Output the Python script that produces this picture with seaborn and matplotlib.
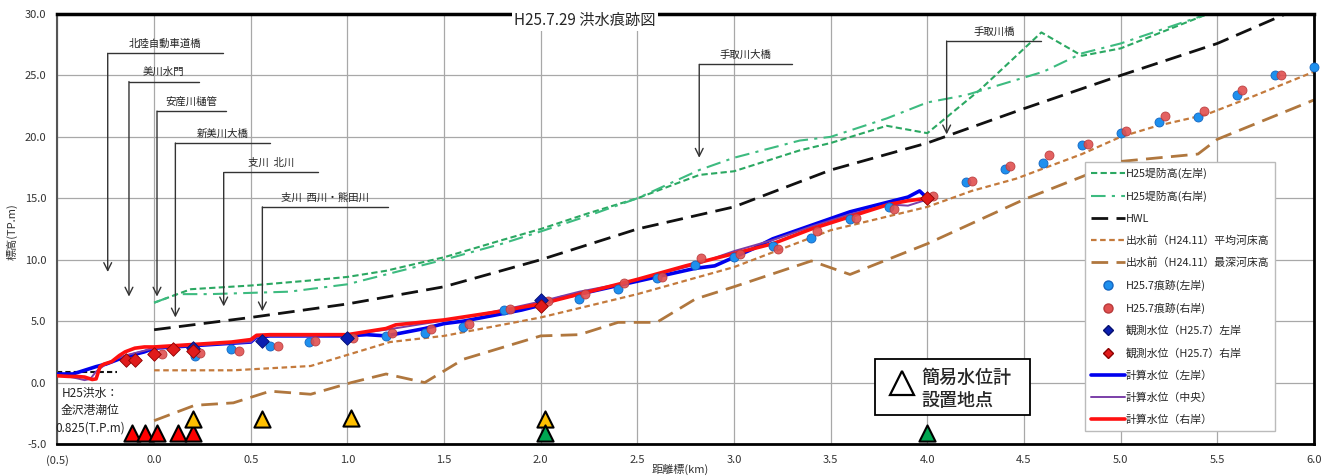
import matplotlib
matplotlib.use("Agg")

import matplotlib.pyplot as plt
from matplotlib.lines import Line2D
from matplotlib.patches import Rectangle
import seaborn as sns

# ---- data (distance km, elevation T.P.m) ----
levee_left_x = [0.0, 0.19, 0.5, 0.8, 1.0, 1.2, 1.5, 1.8, 2.0, 2.25, 2.5, 2.82, 3.0, 3.34, 3.5,
                3.79, 4.0, 4.27, 4.59, 4.8, 5.0, 5.45, 5.7]
levee_left_y = [6.5, 7.6, 7.9, 8.3, 8.6, 9.1, 10.2, 11.6, 12.5, 13.8, 15.0, 16.9, 17.2, 18.9, 19.5,
                20.9, 20.3, 23.8, 28.5, 26.6, 27.2, 30.0, 31.5]
levee_right_x = [0.0, 0.12, 0.29, 0.7, 1.0, 1.2, 1.5, 1.8, 2.0, 2.25, 2.5, 2.82, 3.0, 3.34, 3.5,
                 3.79, 4.0, 4.2, 4.6, 4.8, 5.0, 5.45, 5.7]
levee_right_y = [6.5, 7.2, 7.2, 7.4, 8.0, 8.8, 10.0, 11.3, 12.3, 13.6, 15.0, 17.3, 18.3, 19.7, 20.0,
                 21.5, 22.8, 23.4, 25.3, 26.8, 27.6, 30.0, 31.0]

hwl_x = [0.0, 0.5, 1.0, 1.5, 2.0, 2.5, 3.0, 3.5, 4.0, 4.5, 5.0, 5.5, 6.0]
hwl_y = [4.3, 5.3, 6.4, 7.8, 10.0, 12.5, 14.3, 17.3, 19.5, 22.3, 25.0, 27.6, 31.0]

bed_mean_x = [0.0, 0.41, 0.81, 1.01, 1.22, 1.5, 2.0, 2.5, 3.0, 3.5, 4.0, 4.23, 4.46, 4.63, 4.8,
              5.0, 5.19, 5.44, 5.67, 6.0]
bed_mean_y = [1.0, 1.0, 1.35, 2.3, 3.3, 3.8, 5.3, 7.2, 9.4, 12.4, 14.3, 15.6, 16.6, 17.6, 18.6,
              20.0, 20.9, 21.8, 23.2, 25.3]

bed_deep_x = [0.0, 0.21, 0.41, 0.6, 0.81, 1.02, 1.2, 1.4, 1.6, 2.0, 2.2, 2.4, 2.6, 2.8, 3.0,
              3.4, 3.6, 4.0, 4.5, 5.0, 5.4, 5.5, 6.0]
bed_deep_y = [-3.1, -1.85, -1.65, -0.7, -0.95, 0.0, 0.7, 0.0, 1.9, 3.8, 3.9, 4.9, 4.9, 6.8, 7.8,
              9.9, 8.8, 11.3, 14.9, 18.0, 18.6, 19.8, 23.0]

mark_left_x = [0.21, 0.40, 0.60, 0.80, 1.00, 1.20, 1.40, 1.60, 1.81, 2.00, 2.20, 2.40, 2.60, 2.80,
               3.00, 3.20, 3.40, 3.60, 3.80, 4.00, 4.20, 4.40, 4.60, 4.80, 5.00, 5.20, 5.40, 5.60,
               5.80, 6.00]
mark_left_y = [2.2, 2.7, 3.0, 3.3, 3.6, 3.8, 4.0, 4.5, 5.9, 6.6, 6.8, 7.6, 8.5, 9.6,
               10.2, 11.1, 11.8, 13.3, 14.3, 15.0, 16.3, 17.4, 17.9, 19.3, 20.3, 21.2, 21.6, 23.4,
               25.05, 25.7]
mark_right_x = [0.04, 0.24, 0.44, 0.64, 0.83, 1.03, 1.23, 1.43, 1.63, 1.84, 2.04, 2.23, 2.43, 2.63,
                2.83, 3.03, 3.23, 3.43, 3.63, 3.83, 4.03, 4.23, 4.43, 4.63, 4.83, 5.03, 5.23, 5.43,
                5.63, 5.83]
mark_right_y = [2.3, 2.4, 2.6, 2.95, 3.4, 3.6, 4.0, 4.4, 4.8, 6.0, 6.6, 7.2, 8.1, 8.6,
                10.1, 10.5, 10.9, 12.3, 13.4, 14.1, 15.2, 16.4, 17.6, 18.5, 19.4, 20.5, 21.7, 22.1,
                23.8, 25.0]

obs_left_x = [0.2, 0.56, 1.0, 2.0]
obs_left_y = [2.8, 3.4, 3.6, 6.7]
obs_right_x = [-0.145, -0.1, 0.0, 0.1, 0.2, 2.0, 4.0]
obs_right_y = [1.8, 1.85, 2.3, 2.7, 2.6, 6.2, 15.0]

calc_left_x = [-0.5, -0.42, -0.38, -0.34, -0.3, -0.25, -0.2, -0.15, -0.1, -0.05, 0.0, 0.1, 0.2,
               0.3, 0.4, 0.5, 0.53, 0.6, 0.8, 1.0, 1.1, 1.2, 1.3, 1.4, 1.5, 1.6, 1.7, 1.8, 1.9,
               2.0, 2.1, 2.2, 2.4, 2.6, 2.8, 2.9, 3.0, 3.1, 3.2, 3.4, 3.6, 3.8, 3.9, 3.96, 4.0]
calc_left_y = [0.7, 0.7, 0.9, 1.1, 1.3, 1.5, 1.8, 2.1, 2.3, 2.5, 2.8, 2.9, 3.0,
               3.1, 3.2, 3.3, 3.7, 3.8, 3.8, 3.8, 3.9, 3.8, 4.1, 4.4, 4.8, 5.0, 5.3, 5.6, 5.9,
               6.3, 6.9, 7.2, 7.9, 8.6, 9.3, 9.5, 10.2, 10.9, 11.7, 12.8, 13.9, 14.7, 15.1, 15.6, 15.0]
calc_mid_x = [-0.5, -0.45, -0.4, -0.36, -0.33, -0.3, -0.25, -0.2, -0.15, -0.1, -0.05, 0.0, 0.1,
              0.2, 0.3, 0.4, 0.5, 0.53, 0.6, 0.8, 1.0, 1.2, 1.4, 1.6, 1.8, 2.0, 2.2, 2.4, 2.6,
              2.8, 3.0, 3.2, 3.4, 3.6, 3.8, 3.9, 4.0]
calc_mid_y = [0.6, 0.5, 0.35, 0.2, 0.3, 0.9, 1.5, 1.9, 2.2, 2.4, 2.6, 2.8, 2.9,
              3.0, 3.1, 3.2, 3.3, 3.7, 3.8, 3.8, 3.9, 4.3, 4.8, 5.3, 5.9, 6.6, 7.4, 8.0, 8.8,
              9.6, 10.7, 11.6, 12.7, 13.7, 14.5, 14.4, 14.9]
calc_right_x = [-0.5, -0.44, -0.4, -0.36, -0.32, -0.3, -0.28, -0.26, -0.22, -0.18, -0.15, -0.1,
                -0.05, 0.0, 0.1, 0.2, 0.3, 0.4, 0.5, 0.53, 0.6, 0.8, 1.0, 1.2, 1.25, 1.5, 1.75,
                2.0, 2.25, 2.5, 2.75, 3.0, 3.2, 3.4, 3.6, 3.8, 3.9, 4.0]
calc_right_y = [0.55, 0.5, 0.5, 0.45, 0.25, 0.3, 1.3, 1.5, 1.7, 2.2, 2.5, 2.8,
                2.9, 2.9, 3.0, 3.1, 3.2, 3.3, 3.5, 3.85, 3.9, 3.9, 3.9, 4.4, 4.7, 5.1, 5.7,
                6.4, 7.4, 8.4, 9.5, 10.5, 11.3, 12.5, 13.5, 14.5, 14.8, 15.0]

tide_x = [-0.5, -0.19]
tide_y = [0.825, 0.825]

gauge_red_x = [-0.114, -0.047, 0.015, 0.124, 0.2]
gauge_red_y = [-4.1, -4.1, -4.1, -4.1, -4.1]
gauge_orange_x = [0.2, 0.56, 1.02, 2.02]
gauge_orange_y = [-3.0, -3.0, -2.9, -3.0]
gauge_green_x = [2.02, 4.0]
gauge_green_y = [-4.1, -4.1]

# bridge / structure call-outs: label, vertical x, line end x, top y, arrow tip y
bridge_names = ["北陸自動車道橋", "美川水門", "安産川樋管", "新美川大橋", "支川  北川",
                "支川  西川・熊田川", "手取川大橋", "手取川橋"]
bridge_x = [-0.24, -0.13, 0.015, 0.11, 0.36, 0.56, 2.82, 4.1]
bridge_end = [0.357, 0.23, 0.37, 0.6, 0.85, 1.21, 3.3, 4.59]
bridge_top = [26.8, 24.5, 22.1, 19.5, 17.1, 14.3, 25.9, 27.8]
bridge_tip = [9.0, 7.0, 7.0, 5.3, 6.2, 5.8, 18.3, 20.2]

x_ticks = [-0.5, 0.0, 0.5, 1.0, 1.5, 2.0, 2.5, 3.0, 3.5, 4.0, 4.5, 5.0, 5.5, 6.0]
x_tick_labels = ["(0.5)", "0.0", "0.5", "1.0", "1.5", "2.0", "2.5", "3.0", "3.5", "4.0",
                 "4.5", "5.0", "5.5", "6.0"]
y_ticks = [-5, 0, 5, 10, 15, 20, 25, 30]

# ---- styling ----
sns.set_style("white")
plt.rcParams["font.family"] = ["Noto Sans CJK JP", "DejaVu Sans"]

C_LEV_L = "#2BA862"
C_LEV_R = "#3DBB80"
C_BED_M = "#C47A3C"
C_BED_D = "#B0773E"

fig = plt.figure(figsize=(13.33, 4.76), dpi=100)
ax = fig.add_axes([0.0431, 0.0672, 0.9426, 0.9034])


def line(x, y, **kw):
    sns.lineplot(x=x, y=y, ax=ax, estimator=None, sort=False, legend=False, **kw)


line(levee_left_x, levee_left_y, color=C_LEV_L, linewidth=1.5, linestyle=(0, (3, 1.6)), zorder=2)
line(levee_right_x, levee_right_y, color=C_LEV_R, linewidth=1.5,
     linestyle=(0, (7, 3, 1.5, 3)), zorder=2)
line(hwl_x, hwl_y, color="#111111", linewidth=2.0, linestyle=(0, (6, 3)), zorder=2)
line(bed_mean_x, bed_mean_y, color=C_BED_M, linewidth=1.6, linestyle=(0, (2.5, 1.6)), zorder=2)
line(bed_deep_x, bed_deep_y, color=C_BED_D, linewidth=2.0, linestyle=(0, (6, 3)), zorder=2)
line(tide_x, tide_y, color="#111111", linewidth=1.5, linestyle=(0, (2.5, 1.5)), zorder=2)

line(calc_left_x, calc_left_y, color="#0000EE", linewidth=2.6, zorder=3)
line(calc_mid_x, calc_mid_y, color="#7B3FA8", linewidth=1.4, zorder=3)
line(calc_right_x, calc_right_y, color="#FF1010", linewidth=2.6, zorder=3)

sns.scatterplot(x=mark_left_x, y=mark_left_y, ax=ax, marker="o", s=42, color="#1E90EE",
                edgecolor="#1565C0", linewidth=0.6, zorder=4, clip_on=False)
sns.scatterplot(x=mark_right_x, y=mark_right_y, ax=ax, marker="o", s=42, color="#E05050",
                edgecolor="#B83A3A", linewidth=0.6, alpha=0.9, zorder=4)
sns.scatterplot(x=obs_left_x, y=obs_left_y, ax=ax, marker="D", s=48, color="#0B1FB0",
                edgecolor="#061070", linewidth=0.6, zorder=5)
sns.scatterplot(x=obs_right_x, y=obs_right_y, ax=ax, marker="D", s=48, color="#E01B1B",
                edgecolor="#8B0000", linewidth=0.6, zorder=5)

for gx, gy, gc in [(gauge_red_x, gauge_red_y, "#FF0000"),
                   (gauge_orange_x, gauge_orange_y, "#FFC000"),
                   (gauge_green_x, gauge_green_y, "#00A651")]:
    sns.scatterplot(x=gx, y=gy, ax=ax, marker="^", s=135, color=gc, edgecolor="black",
                    linewidth=1.5, zorder=6, clip_on=False)

# call-outs
for name, bx, be, bt, tip in zip(bridge_names, bridge_x, bridge_end, bridge_top, bridge_tip):
    ax.plot([bx, be], [bt, bt], color="#333333", linewidth=1.0, zorder=2)
    ax.annotate("", xy=(bx, tip), xytext=(bx, bt),
                arrowprops=dict(arrowstyle="->", color="#333333", lw=1.0,
                                mutation_scale=14, shrinkA=0, shrinkB=0), zorder=2)
    ax.text((bx + be) / 2, bt + 0.35, name, ha="center", va="bottom", fontsize=7.5,
            color="#222222", zorder=2)

ax.text(-0.33, -2.3, "H25洪水：\n金沢港潮位\n0.825(T.P.m)", ha="center", va="center",
        fontsize=8.5, linespacing=1.45, color="#222222", zorder=6)

# gauge legend box
ax.add_patch(Rectangle((3.73, -2.6), 0.80, 4.55, facecolor="white", edgecolor="black",
                       linewidth=1.3, zorder=7))
ax.plot([3.87], [-0.05], marker="^", markersize=17, markerfacecolor="white",
        markeredgecolor="black", markeredgewidth=1.6, zorder=8)
ax.text(3.97, -0.55, "簡易水位計\n設置地点", ha="left", va="center", fontsize=13,
        fontweight="medium", linespacing=1.38, zorder=8)

# title
ax.text(0.42, 0.985, "H25.7.29 洪水痕跡図", transform=ax.transAxes, ha="center",
        va="center", fontsize=11, zorder=10,
        bbox=dict(facecolor="white", edgecolor="none", pad=1.5))

# axes
ax.set_xlim(-0.5, 6.0)
ax.set_ylim(-5, 30)
ax.set_xticks(x_ticks)
ax.set_xticklabels(x_tick_labels)
ax.set_yticks(y_ticks)
ax.set_yticklabels([f"{v:.1f}" for v in y_ticks])
ax.tick_params(length=0, pad=8, labelsize=8, colors="#333333")
ax.grid(True, color="#A8A8A8", linewidth=0.9)
ax.set_axisbelow(True)
for side, lw, col in [("top", 2.5, "black"), ("right", 2.0, "black"),
                      ("bottom", 2.0, "black"), ("left", 1.5, "#555555")]:
    ax.spines[side].set_linewidth(lw)
    ax.spines[side].set_color(col)
    ax.spines[side].set_visible(True)

fig.text(12 / 1333, 1 - 232 / 476, "標高(TP.m)", rotation=90, ha="center", va="center",
         fontsize=8, color="#333333")
fig.text(680 / 1333, 1 - 469 / 476, "距離標(km)", ha="center", va="center",
         fontsize=8, color="#333333")

# legend
handles = [
    Line2D([], [], color=C_LEV_L, lw=1.5, linestyle=(0, (3, 1.6))),
    Line2D([], [], color=C_LEV_R, lw=1.5, linestyle=(0, (7, 3, 1.5, 3))),
    Line2D([], [], color="#111111", lw=2.0, linestyle=(0, (6, 3))),
    Line2D([], [], color=C_BED_M, lw=1.6, linestyle=(0, (2.5, 1.6))),
    Line2D([], [], color=C_BED_D, lw=2.0, linestyle=(0, (6, 3))),
    Line2D([], [], marker="o", ls="none", markersize=6.5, markerfacecolor="#1E90EE",
           markeredgecolor="#1565C0"),
    Line2D([], [], marker="o", ls="none", markersize=6.5, markerfacecolor="#E05050",
           markeredgecolor="#B83A3A"),
    Line2D([], [], marker="D", ls="none", markersize=5.5, markerfacecolor="#0B1FB0",
           markeredgecolor="#061070"),
    Line2D([], [], marker="D", ls="none", markersize=5.5, markerfacecolor="#E01B1B",
           markeredgecolor="#8B0000"),
    Line2D([], [], color="#0000EE", lw=2.6),
    Line2D([], [], color="#7B3FA8", lw=1.4),
    Line2D([], [], color="#FF1010", lw=2.6),
]
labels = ["H25堤防高(左岸)", "H25堤防高(右岸)", "HWL", "出水前（H24.11）平均河床高",
          "出水前（H24.11）最深河床高", "H25.7痕跡(左岸)", "H25.7痕跡(右岸)",
          "観測水位（H25.7）左岸", "観測水位（H25.7）右岸", "計算水位（左岸）",
          "計算水位（中央）", "計算水位（右岸）"]
leg = ax.legend(handles, labels, loc="upper left", bbox_to_anchor=(0.818, 0.656),
                fontsize=7.8, handlelength=3.1, handletextpad=0.1, labelspacing=1.08,
                frameon=True, fancybox=False, framealpha=1, edgecolor="#BBBBBB",
                borderpad=0.55, numpoints=1, borderaxespad=0)
leg.set_zorder(20)

fig.savefig("out.png", dpi=100)
